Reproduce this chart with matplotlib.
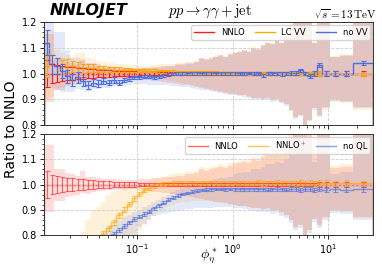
import numpy as np
import matplotlib
matplotlib.use("Agg")
import matplotlib.pyplot as plt
from matplotlib.lines import Line2D

plt.rcParams['mathtext.fontset'] = 'cm'
plt.rcParams['font.family'] = ['DejaVu Sans']

# ---------------- data ----------------
edges = [0.01060, 0.01201, 0.01360, 0.01541, 0.01745, 0.01977, 0.02239, 0.02537, 0.02873, 0.03255,
         0.03687, 0.04176, 0.04731, 0.05359, 0.06070, 0.06877, 0.07790, 0.08825, 0.1000,
         0.1122, 0.1259, 0.1413, 0.1585, 0.1778, 0.1995, 0.2239, 0.2512, 0.2818, 0.3162,
         0.3548, 0.3981, 0.4467, 0.5012, 0.5623, 0.6310, 0.7079, 0.7943, 0.8913, 1.000,
         1.119, 1.253, 1.403, 1.570, 1.758, 1.967, 2.202, 2.465, 2.759, 3.088,
         3.457, 3.870, 4.332, 4.849, 5.428, 6.076, 6.802, 7.615,
         8.59, 10.5, 13.4, 18.1, 29.6]

nnlo_err = [0.052, 0.036, 0.033, 0.030, 0.027, 0.025, 0.023, 0.021, 0.019, 0.017, 0.015, 0.014, 0.012, 0.011, 0.010, 0.009, 0.008, 0.008,
            0.007, 0.007, 0.006, 0.006, 0.006, 0.005, 0.005, 0.005, 0.005, 0.005, 0.005, 0.005, 0.005, 0.005, 0.005, 0.005, 0.005, 0.005, 0.005, 0.005,
            0.005, 0.005, 0.005, 0.005, 0.005, 0.005, 0.005, 0.006, 0.006, 0.006, 0.006, 0.006, 0.006, 0.007, 0.007, 0.007, 0.007, 0.007,
            0.008, 0.008, 0.008, 0.008, 0.008]
nnlo_hi = [1.155, 1.155, 1.060, 1.060, 1.045, 1.040, 1.035, 1.055, 1.030, 1.030, 1.025, 1.022, 1.020, 1.020, 1.018, 1.018, 1.018, 1.018,
           1.020, 1.022, 1.022, 1.025, 1.025, 1.028, 1.030, 1.030, 1.035, 1.035, 1.040, 1.040, 1.045, 1.060, 1.055, 1.060, 1.065, 1.070, 1.065, 1.075,
           1.080, 1.085, 1.090, 1.085, 1.100, 1.095, 1.110, 1.120, 1.115, 1.130, 1.120, 1.140, 1.190, 1.250, 1.300, 1.250, 1.220, 1.120,
           1.300, 1.250, 1.065, 1.070, 1.300]
nnlo_lo = [0.890, 0.890, 0.935, 0.935, 0.950, 0.955, 0.960, 0.965, 0.962, 0.970, 0.975, 0.975, 0.978, 0.980, 0.980, 0.980, 0.982, 0.982,
           0.978, 0.976, 0.974, 0.972, 0.970, 0.968, 0.965, 0.962, 0.960, 0.957, 0.954, 0.950, 0.946, 0.942, 0.940, 0.936, 0.932, 0.930, 0.926, 0.922,
           0.920, 0.916, 0.915, 0.910, 0.906, 0.905, 0.902, 0.905, 0.896, 0.900, 0.890, 0.880, 0.860, 0.830, 0.840, 0.800, 0.820, 0.865,
           0.840, 0.870, 0.900, 0.895, 0.870]

# top panel: LC VV
lcvv_val = [1.030, 1.035, 1.030, 1.025, 1.030, 1.028, 1.025, 1.020, 1.022, 1.020, 1.018, 1.018, 1.015, 1.015, 1.015, 1.014, 1.013, 1.012,
            1.012, 1.011, 1.010, 1.010, 1.009, 1.008, 1.008, 1.007, 1.006, 1.006, 1.005, 1.005, 1.004, 1.004, 1.003, 1.003, 1.003, 1.002, 1.002, 1.002,
            1.002, 1.001, 1.001, 1.001, 1.000, 1.001, 1.000, 1.001, 1.000, 1.000, 1.000, 1.000, 1.001, 1.000, 1.000, 1.000, 1.000, 1.000,
            1.000, 1.000, 1.000, 1.000, 0.998]
lcvv_err = [0.045, 0.035, 0.030, 0.028, 0.025, 0.022, 0.020, 0.018, 0.016, 0.015, 0.013, 0.012, 0.011, 0.010, 0.009, 0.008, 0.008, 0.007,
            0.007, 0.006, 0.006, 0.006, 0.006, 0.005, 0.005, 0.005, 0.005, 0.005, 0.005, 0.005, 0.005, 0.005, 0.005, 0.005, 0.005, 0.005, 0.005, 0.005,
            0.005, 0.005, 0.005, 0.005, 0.005, 0.005, 0.005, 0.006, 0.006, 0.006, 0.006, 0.006, 0.006, 0.007, 0.007, 0.007, 0.007, 0.007,
            0.008, 0.008, 0.008, 0.008, 0.008]
lcvv_hi = [1.160, 1.170, 1.090, 1.080, 1.070, 1.065, 1.080, 1.080, 1.060, 1.055, 1.050, 1.045, 1.042, 1.040, 1.038, 1.036, 1.034, 1.032,
           1.030, 1.030, 1.030, 1.032, 1.032, 1.035, 1.036, 1.036, 1.040, 1.040, 1.044, 1.044, 1.048, 1.062, 1.058, 1.063, 1.067, 1.072, 1.068, 1.078,
           1.083, 1.088, 1.092, 1.088, 1.102, 1.098, 1.112, 1.122, 1.118, 1.132, 1.122, 1.142, 1.192, 1.252, 1.302, 1.252, 1.222, 1.122,
           1.302, 1.252, 1.067, 1.072, 1.302]
lcvv_lo = [0.900, 0.910, 0.945, 0.945, 0.960, 0.965, 0.972, 0.975, 0.975, 0.980, 0.985, 0.985, 0.988, 0.990, 0.990, 0.990, 0.992, 0.992,
           0.988, 0.986, 0.984, 0.982, 0.980, 0.976, 0.973, 0.970, 0.967, 0.963, 0.960, 0.955, 0.950, 0.946, 0.943, 0.939, 0.934, 0.932, 0.928, 0.924,
           0.922, 0.917, 0.916, 0.911, 0.906, 0.906, 0.902, 0.906, 0.896, 0.900, 0.890, 0.880, 0.860, 0.830, 0.840, 0.800, 0.820, 0.865,
           0.830, 0.860, 0.890, 0.885, 0.860]

# top panel: no VV
novv_val = [1.120, 1.035, 1.030, 1.010, 0.990, 0.975, 0.985, 0.970, 0.955, 0.965, 0.960, 0.970, 0.965, 0.975, 0.965, 0.975, 0.980, 0.985,
            0.985, 0.988, 0.990, 0.985, 0.990, 0.993, 0.996, 0.998, 1.000, 1.000, 1.001, 1.000, 1.000, 1.001, 1.000, 1.000, 1.001, 1.000, 1.000, 1.000,
            1.000, 1.001, 1.000, 1.002, 1.000, 1.001, 0.993, 1.000, 1.001, 1.000, 0.998, 1.000, 1.002, 1.003, 1.012, 1.000, 0.992, 1.000,
            1.032, 1.000, 1.000, 1.000, 1.040]
novv_err = [0.050, 0.035, 0.032, 0.028, 0.025, 0.022, 0.020, 0.018, 0.016, 0.015, 0.014, 0.012, 0.011, 0.010, 0.009, 0.008, 0.008, 0.007,
            0.007, 0.007, 0.006, 0.006, 0.006, 0.006, 0.005, 0.005, 0.005, 0.005, 0.005, 0.005, 0.005, 0.005, 0.005, 0.005, 0.005, 0.005, 0.005, 0.005,
            0.005, 0.005, 0.005, 0.005, 0.005, 0.005, 0.006, 0.006, 0.006, 0.006, 0.006, 0.006, 0.007, 0.007, 0.007, 0.007, 0.008, 0.008,
            0.008, 0.008, 0.008, 0.008, 0.008]
novv_hi = [1.250, 1.250, 1.160, 1.160, 1.090, 1.060, 1.060, 1.050, 1.040, 1.040, 1.035, 1.030, 1.028, 1.026, 1.024, 1.022, 1.020, 1.020,
           1.018, 1.020, 1.020, 1.023, 1.023, 1.026, 1.028, 1.028, 1.033, 1.033, 1.038, 1.038, 1.043, 1.058, 1.053, 1.058, 1.063, 1.068, 1.063, 1.073,
           1.078, 1.083, 1.088, 1.083, 1.098, 1.093, 1.108, 1.118, 1.113, 1.128, 1.118, 1.138, 1.188, 1.248, 1.298, 1.248, 1.218, 1.118,
           1.298, 1.248, 1.063, 1.068, 1.298]
novv_lo = [0.950, 0.945, 0.935, 0.930, 0.930, 0.930, 0.940, 0.935, 0.930, 0.940, 0.940, 0.945, 0.945, 0.950, 0.950, 0.955, 0.955, 0.958,
           0.958, 0.958, 0.956, 0.955, 0.955, 0.955, 0.954, 0.952, 0.950, 0.948, 0.946, 0.943, 0.940, 0.937, 0.935, 0.931, 0.928, 0.926, 0.922, 0.918,
           0.915, 0.911, 0.910, 0.905, 0.901, 0.900, 0.896, 0.899, 0.890, 0.894, 0.884, 0.874, 0.855, 0.825, 0.835, 0.795, 0.815, 0.860,
           0.835, 0.865, 0.893, 0.888, 0.866]

# bottom panel: NNLO+
nnlop_val = [0.300, 0.330, 0.360, 0.400, 0.440, 0.480, 0.530, 0.580, 0.640, 0.740, 0.785, 0.805, 0.826, 0.850, 0.878, 0.900, 0.922, 0.945,
             0.963, 0.978, 0.988, 0.995, 1.000, 1.003, 1.004, 1.006, 1.005, 1.007, 1.006, 1.008, 1.005, 1.007, 1.006, 1.008, 1.006, 1.005, 1.007, 1.006,
             1.008, 1.006, 1.005, 1.007, 1.006, 1.008, 1.004, 1.007, 1.006, 1.009, 1.005, 1.007, 1.006, 1.004, 1.008, 1.006, 1.007, 1.005,
             1.006, 1.007, 1.004, 1.006, 1.005]
nnlop_err = [0.020, 0.020, 0.020, 0.020, 0.020, 0.018, 0.017, 0.016, 0.015, 0.014, 0.013, 0.012, 0.011, 0.011, 0.010, 0.010, 0.009, 0.009,
             0.008, 0.008, 0.008, 0.008, 0.007, 0.007, 0.007, 0.007, 0.007, 0.007, 0.007, 0.007, 0.007, 0.007, 0.007, 0.007, 0.007, 0.007, 0.007, 0.007,
             0.007, 0.007, 0.007, 0.007, 0.007, 0.008, 0.008, 0.008, 0.008, 0.008, 0.008, 0.008, 0.008, 0.009, 0.009, 0.009, 0.009, 0.009,
             0.010, 0.010, 0.010, 0.010, 0.010]
nnlop_hi = [0.700, 0.700, 0.700, 0.700, 0.700, 0.700, 0.700, 0.810, 0.860, 0.900, 0.912, 0.930, 0.960, 0.970, 0.975, 0.985, 0.990, 0.995,
            1.005, 1.010, 1.015, 1.020, 1.025, 1.030, 1.035, 1.040, 1.045, 1.045, 1.050, 1.050, 1.055, 1.070, 1.065, 1.070, 1.075, 1.080, 1.075, 1.085,
            1.090, 1.095, 1.100, 1.095, 1.110, 1.105, 1.120, 1.130, 1.125, 1.140, 1.130, 1.150, 1.200, 1.260, 1.310, 1.260, 1.230, 1.130,
            1.310, 1.260, 1.075, 1.080, 1.310]
nnlop_lo = [0.500, 0.500, 0.500, 0.500, 0.500, 0.500, 0.500, 0.600, 0.620, 0.640, 0.660, 0.680, 0.700, 0.720, 0.740, 0.760, 0.780, 0.800,
            0.820, 0.840, 0.860, 0.875, 0.890, 0.900, 0.910, 0.918, 0.925, 0.930, 0.932, 0.935, 0.935, 0.935, 0.935, 0.933, 0.930, 0.928, 0.925, 0.920,
            0.918, 0.915, 0.913, 0.910, 0.905, 0.905, 0.900, 0.903, 0.895, 0.898, 0.888, 0.878, 0.858, 0.828, 0.838, 0.798, 0.818, 0.862,
            0.838, 0.866, 0.896, 0.892, 0.868]

# bottom panel: no QL
noql_val = [0.500, 0.520, 0.540, 0.560, 0.590, 0.610, 0.640, 0.660, 0.690, 0.710, 0.740, 0.765, 0.790, 0.803, 0.820, 0.836, 0.850, 0.863,
            0.873, 0.883, 0.893, 0.905, 0.917, 0.928, 0.939, 0.948, 0.956, 0.962, 0.967, 0.972, 0.976, 0.979, 0.980, 0.981, 0.982, 0.982, 0.981, 0.982,
            0.982, 0.981, 0.982, 0.981, 0.982, 0.981, 0.982, 0.980, 0.981, 0.982, 0.981, 0.980, 0.982, 0.981, 0.980, 0.981, 0.982, 0.980,
            0.981, 0.980, 0.981, 0.980, 0.981]
noql_err = [0.020, 0.018, 0.017, 0.016, 0.015, 0.014, 0.013, 0.012, 0.011, 0.010, 0.010, 0.009, 0.009, 0.008, 0.008, 0.008, 0.007, 0.007,
            0.007, 0.007, 0.006, 0.006, 0.006, 0.006, 0.006, 0.006, 0.005, 0.005, 0.005, 0.005, 0.005, 0.005, 0.005, 0.005, 0.005, 0.005, 0.005, 0.005,
            0.006, 0.006, 0.006, 0.006, 0.006, 0.006, 0.006, 0.007, 0.007, 0.007, 0.007, 0.007, 0.007, 0.008, 0.008, 0.008, 0.008, 0.008,
            0.008, 0.008, 0.009, 0.009, 0.009]
noql_hi = [0.550, 0.570, 0.590, 0.610, 0.640, 0.660, 0.690, 0.710, 0.740, 0.760, 0.790, 0.810, 0.830, 0.840, 0.855, 0.870, 0.880, 0.890,
           0.900, 0.910, 0.920, 0.930, 0.940, 0.950, 0.960, 0.970, 0.978, 0.985, 0.990, 0.995, 1.000, 1.010, 1.010, 1.015, 1.020, 1.025, 1.025, 1.030,
           1.040, 1.045, 1.050, 1.050, 1.060, 1.060, 1.070, 1.080, 1.080, 1.090, 1.085, 1.100, 1.150, 1.210, 1.260, 1.210, 1.180, 1.090,
           1.260, 1.210, 1.040, 1.050, 1.260]
noql_lo = [0.400, 0.420, 0.440, 0.460, 0.480, 0.500, 0.520, 0.550, 0.580, 0.600, 0.630, 0.660, 0.690, 0.710, 0.730, 0.760, 0.780, 0.800,
           0.830, 0.845, 0.860, 0.875, 0.880, 0.885, 0.888, 0.892, 0.897, 0.900, 0.902, 0.903, 0.905, 0.906, 0.907, 0.908, 0.909, 0.910, 0.910, 0.910,
           0.908, 0.905, 0.903, 0.899, 0.895, 0.893, 0.890, 0.892, 0.884, 0.887, 0.877, 0.867, 0.848, 0.818, 0.828, 0.788, 0.808, 0.852,
           0.828, 0.858, 0.886, 0.882, 0.858]

nnlo_val = [1.0] * (len(edges) - 1)

top_labels = ["NNLO", "LC VV", "no VV"]
bot_labels = ["NNLO", "NNLO$^+$", "no QL"]

# ---------------- style ----------------
C_RED = "#ff1a1a"
C_ORA = "#ffa500"
C_BLU = "#4a6fe3"

W, H = 382, 270
fig = plt.figure(figsize=(W / 100, H / 100), dpi=100)
L, R = 44 / W, 373 / W
ax1 = fig.add_axes([L, 1 - 125 / H, R - L, (125 - 22) / H])
ax2 = fig.add_axes([L, 1 - 235 / H, R - L, (235 - 134) / H], sharex=ax1)

e = np.array(edges)
centers = np.sqrt(e[:-1] * e[1:])


def draw(ax, series, line_alpha):
    for (val, err, lo, hi, col) in series:
        ax.stairs(hi, e, baseline=lo, fill=True, color=col, alpha=0.15, lw=0)
    for (val, err, lo, hi, col) in series:
        ax.stairs(val, e, color=col, lw=1.0, alpha=line_alpha)
        ax.errorbar(centers, val, yerr=err, fmt='none', ecolor=col, elinewidth=0.8,
                    capsize=1.8, capthick=0.8, alpha=line_alpha)


draw(ax1, [(nnlo_val, nnlo_err, nnlo_lo, nnlo_hi, C_RED),
           (lcvv_val, lcvv_err, lcvv_lo, lcvv_hi, C_ORA),
           (novv_val, novv_err, novv_lo, novv_hi, C_BLU)], 1.0)
draw(ax2, [(nnlo_val, nnlo_err, nnlo_lo, nnlo_hi, C_RED),
           (nnlop_val, nnlop_err, nnlop_lo, nnlop_hi, C_ORA),
           (noql_val, noql_err, noql_lo, noql_hi, C_BLU)], 0.65)

for ax in (ax1, ax2):
    ax.set_xscale('log')
    ax.set_xlim(edges[0], edges[-1])
    ax.set_ylim(0.8, 1.2)
    ax.set_yticks([0.8, 0.9, 1.0, 1.1, 1.2])
    ax.set_yticks(np.arange(0.8, 1.2001, 0.02), minor=True)
    ax.grid(True, which='major', ls='--', lw=0.6, color='#cccccc')
    ax.tick_params(labelsize=7, width=0.6, length=3, pad=2)
    ax.tick_params(which='minor', width=0.5, length=1.8)
    for s in ax.spines.values():
        s.set_linewidth(0.7)
        s.set_color('#333333')

ax1.tick_params(labelbottom=False)

def legend(ax, labels, alpha):
    hs = [Line2D([], [], color=c, lw=1.0, alpha=alpha) for c in (C_RED, C_ORA, C_BLU)]
    ax.legend(hs, labels, loc='upper right', ncol=3, fontsize=6, handlelength=2.4,
              columnspacing=1.2, handletextpad=0.8, borderpad=0.35,
              borderaxespad=0.35, framealpha=0.8, fancybox=True)

legend(ax1, top_labels, 1.0)
legend(ax2, bot_labels, 0.65)

ax2.set_xlabel(r"$\phi^*_\eta$", fontsize=10)
ax2.xaxis.set_label_coords(0.5, -0.12)
fig.text(0.03, (1 - 125 / H + 1 - 134 / H) / 2, "Ratio to NNLO", rotation=90,
         ha='center', va='center', fontsize=10)

fig.text(50 / W, 1 - 11 / H, "NNLOJET", fontsize=11.5, fontweight='heavy',
         style='italic', ha='left', va='center')
fig.text(210 / W, 1 - 11 / H, r"$pp \to \gamma\gamma + \mathrm{jet}$", fontsize=10.5,
         ha='center', va='center')
fig.text(377 / W, 1 - 14 / H, r"$\sqrt{s} = 13\,\mathrm{TeV}$", fontsize=8,
         ha='right', va='center')

fig.savefig("out.png", dpi=100)
